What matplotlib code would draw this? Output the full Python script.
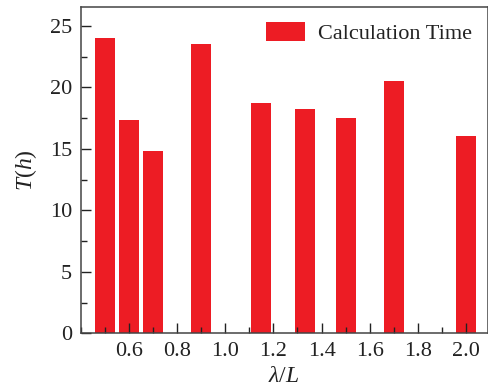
import numpy as np
import matplotlib.pyplot as plt
from matplotlib.ticker import MultipleLocator

plt.rcParams['font.family'] = 'serif'
plt.rcParams['font.serif'] = ['Liberation Serif', 'DejaVu Serif']
plt.rcParams['mathtext.fontset'] = 'custom'
plt.rcParams['mathtext.rm'] = 'Liberation Serif'
plt.rcParams['mathtext.it'] = 'Liberation Serif:italic'

# data
ratio = [0.5, 0.6, 0.7, 0.9, 1.15, 1.33, 1.5, 1.7, 2.0]
calc_time = [24.0, 17.3, 14.8, 23.5, 18.7, 18.2, 17.5, 20.5, 16.0]

fig = plt.figure(figsize=(4.89, 3.92), dpi=100)
ax = fig.add_axes([80.5/489, (392-333.3)/392, (487.7-80.5)/489, (333.3-6.7)/392])

ax.bar(ratio, calc_time, width=0.083, color='#ED1C24', label='Calculation Time')

ax.set_xlim(0.4, 2.089)
ax.set_ylim(0, 26.55)
ax.xaxis.set_major_locator(MultipleLocator(0.2))
ax.xaxis.set_minor_locator(MultipleLocator(0.1))
ax.yaxis.set_major_locator(MultipleLocator(5))
ax.yaxis.set_minor_locator(MultipleLocator(2.5))
ax.set_xticks([0.6, 0.8, 1.0, 1.2, 1.4, 1.6, 1.8, 2.0])
ax.set_xticklabels(['0.6', '0.8', '1.0', '1.2', '1.4', '1.6', '1.8', '2.0'])

ax.tick_params(which='both', direction='in', top=False, right=False,
               labelsize=16, colors='#222222', pad=6)
ax.tick_params(which='major', length=7.5, width=1)
ax.tick_params(which='minor', length=4, width=1)
for s in ax.spines.values():
    s.set_color('#444444')
    s.set_linewidth(1.1)

ax.set_xlabel(r'$\mathit{\lambda}/\mathit{L}$', size=17, color='#222222', labelpad=4)
ax.set_ylabel(r'$\mathit{T}\mathrm{(}\mathit{h}\mathrm{)}$', size=17, color='#222222', labelpad=8)

ax.legend(loc='upper right', frameon=False, fontsize=16, handlelength=1.75,
          handleheight=0.9, handletextpad=0.6, borderaxespad=0.3,
          labelcolor='#222222')

plt.savefig('out.png', dpi=100)
